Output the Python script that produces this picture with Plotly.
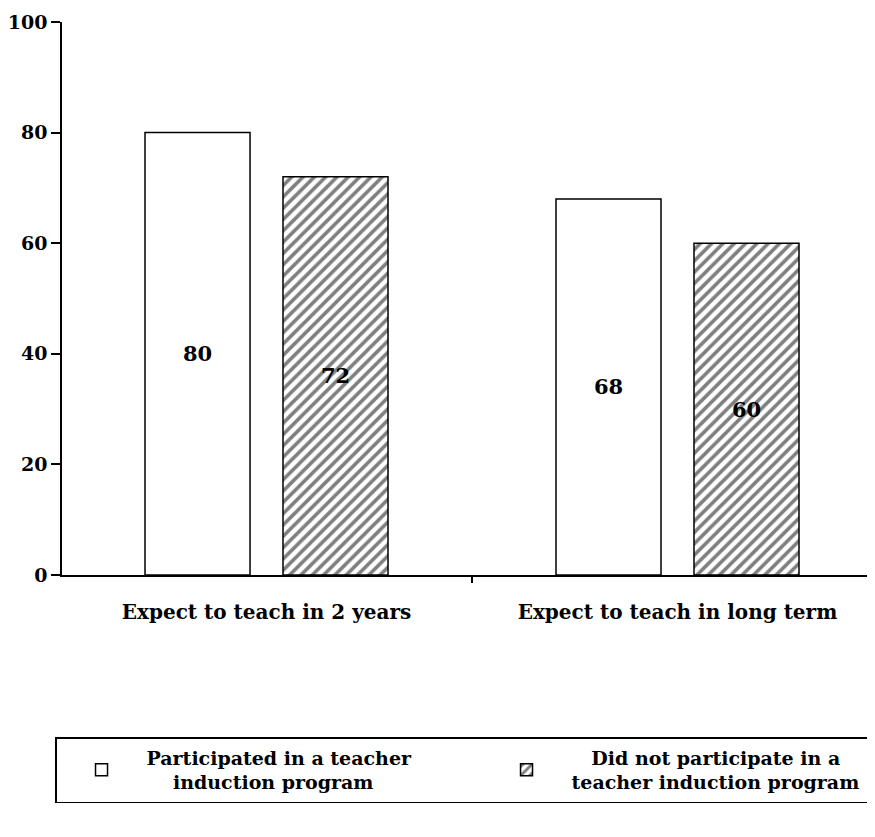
import plotly.graph_objects as go

categories = ["Expect to teach in 2 years", "Expect to teach in long term"]
participated = [80, 68]
not_participated = [72, 60]
series_names = [["Participated in a teacher", "induction program"],
                ["Did not participate in a", "teacher induction program"]]
y_ticks = [0, 20, 40, 60, 80, 100]

FONT = "DejaVu Serif"
NB = "\u00a0"
# centre the two legend lines by padding the shorter one
legend_names = [
    series_names[0][0] + "<br>" + NB * 4 + series_names[0][1],
    NB * 3 + series_names[1][0] + "<br>" + series_names[1][1],
]

fig = go.Figure()
fig.add_trace(go.Bar(
    x=categories, y=participated, name=legend_names[0],
    marker=dict(color="white", line=dict(color="black", width=1.5)),
    text=participated, textposition="inside", insidetextanchor="middle",
    textfont=dict(family=FONT, size=21, color="black", weight="bold"),
))
fig.add_trace(go.Bar(
    x=categories, y=not_participated, name=legend_names[1],
    marker=dict(color="white", line=dict(color="black", width=1.5),
                pattern=dict(shape="/", fgcolor="black", bgcolor="white",
                             size=8, solidity=0.45)),
    text=not_participated, textposition="inside", insidetextanchor="middle",
    textfont=dict(family=FONT, size=21, color="black", weight="bold"),
))

fig.update_layout(
    width=875, height=837,
    margin=dict(l=54, r=0, t=14, b=270, autoexpand=False),
    paper_bgcolor="white", plot_bgcolor="white",
    barmode="group", bargap=0.3285, bargroupgap=0.239,
    font=dict(family=FONT, color="black"),
    showlegend=True,
    legend=dict(
        orientation="h", x=-0.0085, xanchor="left", y=-0.293, yanchor="top",
        bordercolor="black", borderwidth=1.5, bgcolor="white",
        font=dict(family=FONT, size=19, color="black", weight="bold"),
        entrywidth=330, tracegroupgap=0, itemwidth=80,
    ),
)
fig.update_xaxes(
    type="category", range=[-0.4976, 1.5], automargin=False,
    showline=True, linecolor="black", linewidth=1.5,
    ticks="outside", tickson="boundaries", ticklen=6, tickcolor="black", tickwidth=1.5,
    tickfont=dict(family=FONT, size=20, color="black", weight="bold"),
    ticklabelstandoff=18,
    showgrid=False, zeroline=False,
)
fig.update_yaxes(
    range=[0, 100], tickvals=y_ticks, automargin=False,
    showline=True, linecolor="black", linewidth=1.5,
    ticks="outside", ticklen=9, tickcolor="black", tickwidth=1.5,
    tickfont=dict(family=FONT, size=19, color="black", weight="bold"),
    showgrid=False, zeroline=False,
)

fig.write_html("out.html")
